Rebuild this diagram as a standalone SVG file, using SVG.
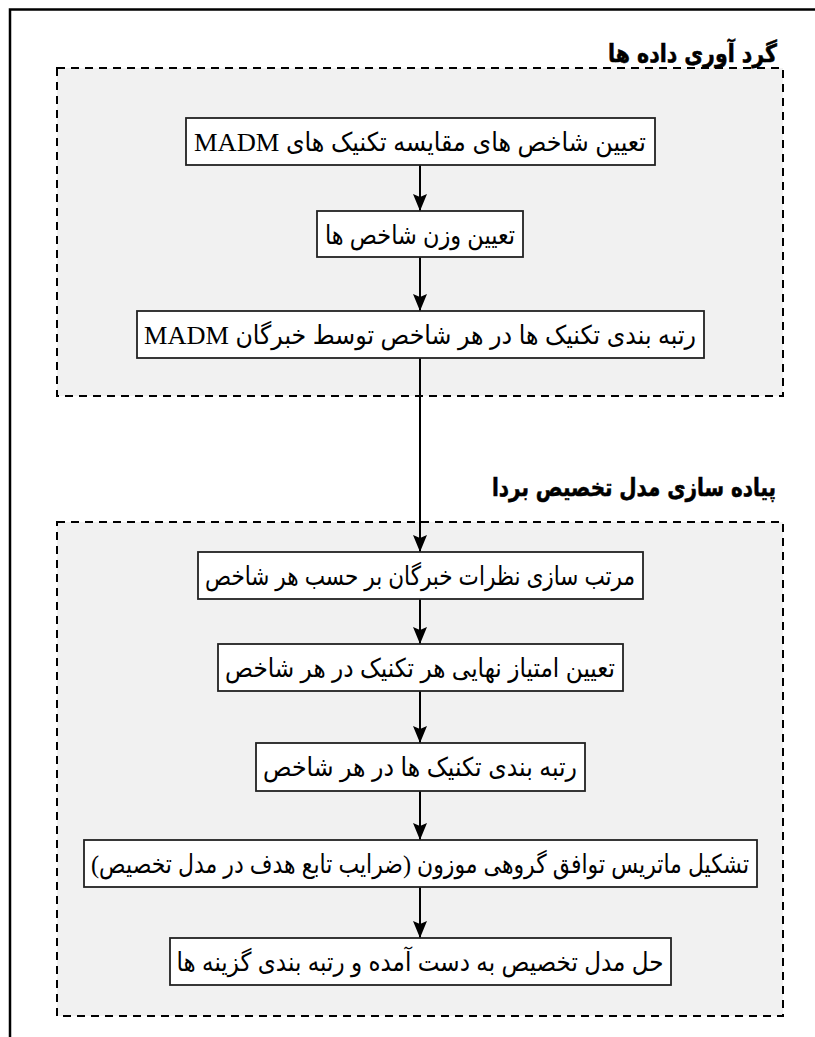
<svg xmlns="http://www.w3.org/2000/svg" width="815" height="1037" viewBox="0 0 815 1037">
<defs>
<marker id="arr" markerUnits="userSpaceOnUse" markerWidth="17" markerHeight="14" viewBox="0 0 17 14" refX="17" refY="7" orient="auto">
<path d="M0,0 L17,7 L0,14 L3,7 Z" fill="#000"/>
</marker>
<style>
.grp{fill:#f1f1f1;stroke:#000;stroke-width:2;stroke-dasharray:8 6}
.box{fill:#fff;stroke:#222;stroke-width:1.8}
.t{font-family:"Liberation Serif","DejaVu Sans Condensed","DejaVu Sans",serif;font-size:26px;fill:#000;text-anchor:middle}
.title{font-family:"DejaVu Sans Condensed","DejaVu Sans",sans-serif;font-weight:bold;font-size:25px;fill:#000;stroke:#000;stroke-width:0.5}
.edge{stroke:#000;stroke-width:2;fill:none}
</style>
</defs>
<rect width="815" height="1037" fill="#fff"/>
<g id="frame"><path d="M10,1037 V9.5 H815" fill="none" stroke="#000" stroke-width="2.5"/></g>
<g id="group-collect">
<rect class="grp" x="57" y="68" width="726" height="328"/>
<text class="title" x="777" y="62" direction="rtl" text-anchor="start" textLength="169" lengthAdjust="spacingAndGlyphs">گرد آوری داده ها</text>
</g>
<g id="group-model">
<rect class="grp" x="57" y="522" width="726" height="494"/>
<text class="title" x="776" y="496" direction="rtl" text-anchor="start" textLength="284" lengthAdjust="spacingAndGlyphs">پیاده سازی مدل تخصیص بردا</text>
</g>
<g id="connectors">
<line class="edge" x1="420" y1="165" x2="420" y2="211" marker-end="url(#arr)"/>
<line class="edge" x1="420" y1="257" x2="420" y2="311" marker-end="url(#arr)"/>
<line class="edge" x1="420" y1="358" x2="420" y2="552" marker-end="url(#arr)"/>
<line class="edge" x1="420" y1="599" x2="420" y2="644" marker-end="url(#arr)"/>
<line class="edge" x1="420" y1="691" x2="420" y2="743" marker-end="url(#arr)"/>
<line class="edge" x1="420" y1="791" x2="420" y2="840" marker-end="url(#arr)"/>
<line class="edge" x1="420" y1="887" x2="420" y2="938" marker-end="url(#arr)"/>
</g>
<g id="nodeA"><rect class="box" x="186" y="118" width="469" height="47"/><text class="t" x="420" y="151" direction="rtl" textLength="452" lengthAdjust="spacingAndGlyphs">تعیین شاخص های مقایسه تکنیک های MADM</text></g>
<g id="nodeB"><rect class="box" x="317" y="211" width="206" height="46"/><text class="t" x="420" y="244" direction="rtl" textLength="190" lengthAdjust="spacingAndGlyphs">تعیین وزن شاخص ها</text></g>
<g id="nodeC"><rect class="box" x="137" y="311" width="567" height="47"/><text class="t" x="420" y="344" direction="rtl" textLength="552" lengthAdjust="spacingAndGlyphs">رتبه بندی تکنیک ها در هر شاخص توسط خبرگان MADM</text></g>
<g id="nodeD"><rect class="box" x="198" y="552" width="445" height="47"/><text class="t" x="420" y="585" direction="rtl" textLength="430" lengthAdjust="spacingAndGlyphs">مرتب سازی نظرات خبرگان بر حسب هر شاخص</text></g>
<g id="nodeE"><rect class="box" x="218" y="644" width="405" height="47"/><text class="t" x="420" y="677" direction="rtl" textLength="390" lengthAdjust="spacingAndGlyphs">تعیین امتیاز نهایی هر تکنیک در هر شاخص</text></g>
<g id="nodeF"><rect class="box" x="256" y="743" width="329" height="48"/><text class="t" x="420" y="776" direction="rtl" textLength="314" lengthAdjust="spacingAndGlyphs">رتبه بندی تکنیک ها در هر شاخص</text></g>
<g id="nodeG"><rect class="box" x="84" y="840" width="673" height="47"/><text class="t" x="420" y="873" direction="rtl" textLength="658" lengthAdjust="spacingAndGlyphs">تشکیل ماتریس توافق گروهی موزون (ضرایب تابع هدف در مدل تخصیص)</text></g>
<g id="nodeH"><rect class="box" x="170" y="938" width="501" height="47"/><text class="t" x="420" y="971" direction="rtl" textLength="487" lengthAdjust="spacingAndGlyphs">حل مدل تخصیص به دست آمده و رتبه بندی گزینه ها</text></g>
</svg>
